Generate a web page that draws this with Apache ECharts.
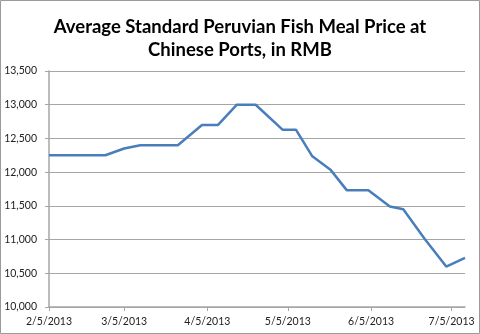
<!DOCTYPE html>
<html>
<head>
<meta charset="utf-8">
<script src="https://cdn.jsdelivr.net/npm/echarts@6/dist/echarts.min.js"></script>
<style>
  html, body { margin: 0; padding: 0; background: #fff; }
  #chart { width: 480px; height: 334px; }
</style>
</head>
<body>
<div id="chart"></div>
<script>
// Observation dates and average prices (RMB per tonne)
const dates = [
  '2013-02-05', '2013-02-26', '2013-03-05', '2013-03-11', '2013-03-25',
  '2013-04-03', '2013-04-09', '2013-04-16', '2013-04-23', '2013-05-03',
  '2013-05-08', '2013-05-14', '2013-05-21', '2013-05-27', '2013-06-04',
  '2013-06-12', '2013-06-17', '2013-06-25', '2013-07-03', '2013-07-10'
];
const prices = [
  12250, 12250, 12350, 12400, 12400,
  12700, 12700, 13000, 13000, 12630,
  12630, 12240, 12030, 11730, 11730,
  11490, 11450, 11010, 10600, 10730
];
// Month marks shown along the date axis
const tickDates = ['2013-02-05', '2013-03-05', '2013-04-05', '2013-05-05', '2013-06-05', '2013-07-05'];
const axisStart = '2013-02-05';
const axisEnd = '2013-07-10';

const DAY = 86400000;
function toUTC(s) {
  const [y, m, d] = s.split('-').map(Number);
  return Date.UTC(y, m - 1, d);
}
const origin = toUTC(axisStart);
// Dates are plotted as whole days counted from the axis start
function toDay(s) { return Math.round((toUTC(s) - origin) / DAY); }
function fmtDay(v) {
  const d = new Date(origin + v * DAY);
  return (d.getUTCMonth() + 1) + '/' + d.getUTCDate() + '/' + d.getUTCFullYear();
}

const seriesData = dates.map((s, i) => [toDay(s), prices[i]]);
const tickValues = tickDates.map(toDay);

const chart = echarts.init(document.getElementById('chart'), null, { renderer: 'canvas' });
chart.setOption({
  animation: false,
  backgroundColor: '#ffffff',
  title: {
    text: 'Average Standard Peruvian Fish Meal Price at\nChinese Ports, in RMB',
    left: 'center',
    top: 11,
    textStyle: {
      fontFamily: 'Lato',
      fontWeight: 'bold',
      fontSize: 18.5,
      lineHeight: 23,
      color: '#000000'
    }
  },
  graphic: [{
    type: 'rect',
    shape: { x: 0.5, y: 0.5, width: 479, height: 333 },
    style: { fill: null, stroke: '#9a9a9a', lineWidth: 1 },
    silent: true
  }],
  grid: { left: 49, right: 15, top: 71, bottom: 27, containLabel: false },
  xAxis: {
    type: 'value',
    min: 0,
    max: toDay(axisEnd),
    axisLine: { show: true, lineStyle: { color: '#a6a6a6', width: 1.5 } },
    axisTick: { show: true, customValues: tickValues, length: 4, lineStyle: { color: '#a6a6a6' } },
    axisLabel: {
      customValues: tickValues,
      formatter: fmtDay,
      fontFamily: 'Lato',
      fontSize: 10.5,
      color: '#222222',
      margin: 9
    },
    splitLine: { show: false }
  },
  yAxis: {
    type: 'value',
    min: 10000,
    max: 13500,
    interval: 500,
    axisLine: { show: true, lineStyle: { color: '#a6a6a6', width: 1.5 } },
    axisTick: { show: true, length: 4, lineStyle: { color: '#a6a6a6' } },
    axisLabel: {
      formatter: v => v.toLocaleString('en-US'),
      fontFamily: 'Lato',
      fontSize: 10.5,
      color: '#222222',
      margin: 12
    },
    splitLine: { show: true, lineStyle: { color: '#a6a6a6', width: 1 } }
  },
  series: [{
    type: 'line',
    data: seriesData,
    showSymbol: false,
    lineStyle: { color: '#4a7ebb', width: 2.5 },
    itemStyle: { color: '#4a7ebb' }
  }]
});
</script>
</body>
</html>
